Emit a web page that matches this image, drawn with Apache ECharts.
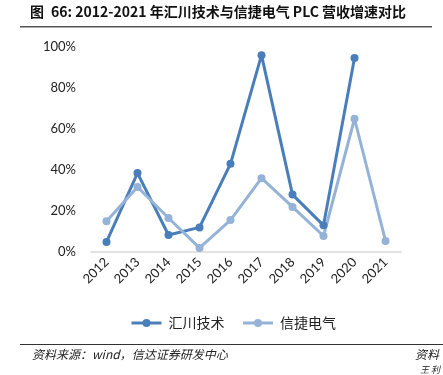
<!DOCTYPE html>
<html>
<head>
<meta charset="utf-8">
<script src="https://cdn.jsdelivr.net/npm/echarts@6/dist/echarts.min.js"></script>
<style>
html, body { margin: 0; padding: 0; background: #fff; }
#main { width: 443px; height: 375px; }
</style>
</head>
<body>
<div id="main"></div>
<script>
var chartDom = document.getElementById('main');
var myChart = echarts.init(chartDom, null, { renderer: 'canvas' });

const years = ['2012', '2013', '2014', '2015', '2016', '2017', '2018', '2019', '2020', '2021'];
const inovance = [4.9, 38.5, 8.3, 12, 43, 96, 28, 13, 94.6, null];
const xinje = [15, 31.7, 16.6, 2, 15.6, 36, 22, 7.8, 65, 5.4];
const seriesNames = ['汇川技术', '信捷电气'];
const cjk = '"Noto Sans CJK SC", "Noto Sans", sans-serif';

var option = {
    animation: false,
    textStyle: { fontFamily: cjk },
    grid: { left: 91, right: 42, top: 47, bottom: 123 },
    legend: {
        data: seriesNames,
        left: 125,
        top: 311,
        itemWidth: 30,
        itemHeight: 10,
        itemGap: 17,
        lineStyle: { width: 3 },
        textStyle: { fontSize: 14, color: '#222', fontFamily: cjk, padding: [0, 0, 0, 2] }
    },
    xAxis: {
        type: 'category',
        data: years,
        boundaryGap: true,
        axisLine: { lineStyle: { color: '#d9d9d9', width: 1.5 } },
        axisTick: { show: false },
        axisLabel: { rotate: 45, color: '#222', fontSize: 13, margin: 8, fontFamily: 'Lato, sans-serif' }
    },
    yAxis: {
        type: 'value',
        min: 0,
        max: 100,
        interval: 20,
        splitLine: { show: false },
        axisLine: { show: false },
        axisTick: { show: false },
        axisLabel: { formatter: '{value}%', color: '#222', fontSize: 13, margin: 15, fontFamily: 'Lato, sans-serif' }
    },
    series: [
        {
            name: seriesNames[0],
            type: 'line',
            data: inovance,
            symbol: 'circle',
            symbolSize: 8,
            color: '#4a7ebb',
            lineStyle: { width: 3, color: '#4a7ebb' },
            itemStyle: { color: '#4a7ebb' }
        },
        {
            name: seriesNames[1],
            type: 'line',
            data: xinje,
            symbol: 'circle',
            symbolSize: 8,
            color: '#95b3d7',
            lineStyle: { width: 3, color: '#95b3d7' },
            itemStyle: { color: '#95b3d7' }
        }
    ],
    graphic: [
        {
            type: 'text', left: 30, top: 5,
            style: { text: '图', fontSize: 14, fontWeight: 'bold', fill: '#111', fontFamily: cjk }
        },
        {
            type: 'text', left: 51, top: 5,
            style: { text: '66: 2012-2021 年汇川技术与信捷电气 PLC 营收增速对比', fontSize: 14, fontWeight: 'bold', fill: '#111', fontFamily: cjk }
        },
        { type: 'rect', shape: { x: 20, y: 26, width: 412, height: 1.5 }, style: { fill: '#555' } },
        { type: 'rect', shape: { x: 20, y: 344, width: 423, height: 1 }, style: { fill: '#333' } },
        {
            type: 'text', left: 32, top: 348,
            style: { text: '资料来源：wind，信达证券研发中心', fontSize: 12, fontStyle: 'italic', fill: '#222', fontFamily: cjk }
        },
        {
            type: 'text', left: 415, top: 348,
            style: { text: '资料', fontSize: 12, fontStyle: 'italic', fill: '#222', fontFamily: cjk }
        },
        {
            type: 'text', left: 420, top: 365,
            style: { text: '王 利', fontSize: 9, fontStyle: 'italic', fill: '#222', fontFamily: cjk }
        }
    ]
};
option && myChart.setOption(option);
</script>
</body>
</html>
